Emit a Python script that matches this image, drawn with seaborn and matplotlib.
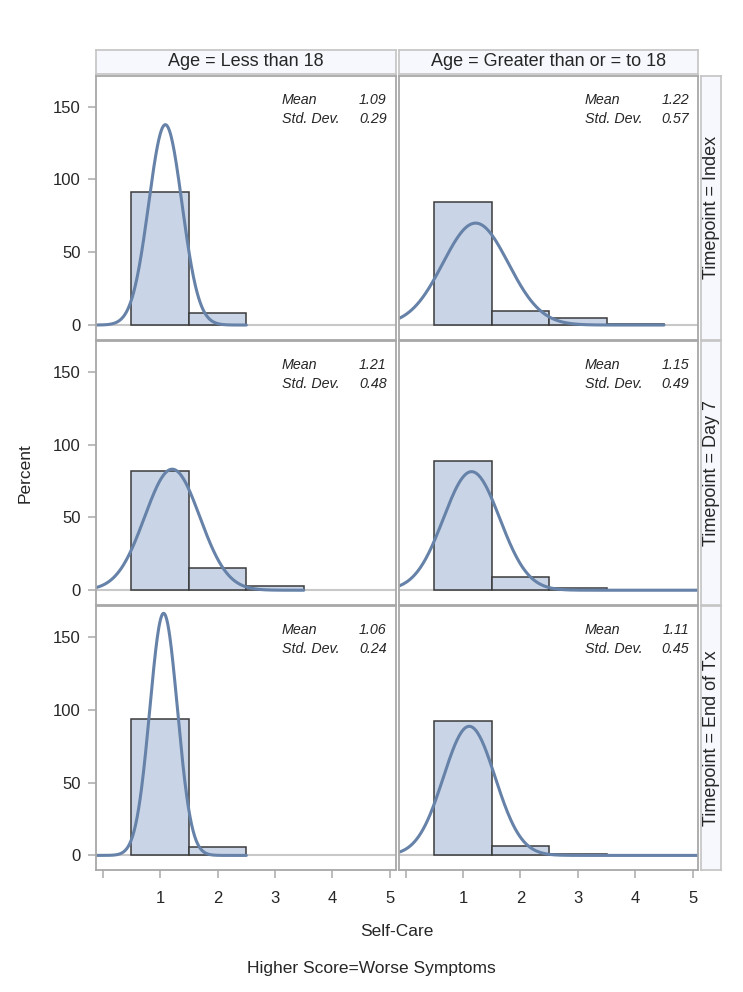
import numpy as np
import pandas as pd
import matplotlib
matplotlib.use("Agg")
import matplotlib.pyplot as plt
import seaborn as sns

sns.set_style("white")
plt.rcParams["font.family"] = ["Liberation Sans", "DejaVu Sans"]

# data
ages = ["Less than 18", "Greater than or = to 18"]
timepoints = ["Index", "Day 7", "End of Tx"]
bin_centers = [1, 2, 3, 4, 5]

pct_lt18_index = [91.5, 8.5, 0, 0, 0]
pct_ge18_index = [84.2, 9.3, 5.0, 0.8, 0]
pct_lt18_day7 = [82.2, 15.2, 2.6, 0, 0]
pct_ge18_day7 = [89.0, 9.0, 1.6, 0, 0.4]
pct_lt18_end = [93.9, 6.1, 0, 0, 0]
pct_ge18_end = [92.2, 6.7, 0.7, 0, 0.4]

means = [[1.09, 1.22], [1.21, 1.15], [1.06, 1.11]]
stds = [[0.29, 0.57], [0.48, 0.49], [0.24, 0.45]]

percents = [[pct_lt18_index, pct_ge18_index],
            [pct_lt18_day7, pct_ge18_day7],
            [pct_lt18_end, pct_ge18_end]]

bar_fill = "#c9d5e6"
curve_col = "#6682a8"
border = "#a8a8a8"
strip_fill = "#f6f8fd"

fig, axes = plt.subplots(3, 2, figsize=(7.43, 9.92), dpi=100, sharex=True, sharey=True)
fig.subplots_adjust(left=0.129, right=0.940, top=0.9234, bottom=0.123, wspace=0.01, hspace=0.006)

xmin, xmax = -0.12, 5.1

for r in range(3):
    for c in range(2):
        ax = axes[r, c]
        pct = percents[r][c]
        df = pd.DataFrame({"score": bin_centers, "pct": pct})
        ax.axhline(0, color="#c8c8c8", lw=1.5, zorder=0)
        sns.histplot(data=df, x="score", weights="pct", binwidth=1, binrange=(0.5, 5.5),
                     color=bar_fill, alpha=1, edgecolor="#3a3a3a", linewidth=1.1, ax=ax)
        for p in ax.patches:
            if p.get_height() <= 0:
                p.set_visible(False)
        # normal density scaled to percent (bin width 1)
        last = max(b for b, v in zip(bin_centers, pct) if v > 0) + 0.5
        xs = np.linspace(xmin, last, 300)
        m, s = means[r][c], stds[r][c]
        dens = 100 * np.exp(-0.5 * ((xs - m) / s) ** 2) / (s * np.sqrt(2 * np.pi))
        sns.lineplot(x=xs, y=dens, color=curve_col, lw=2.2, ax=ax)

        ax.set_xlim(xmin, xmax)
        ax.set_ylim(-10, 171)
        ax.set_xlabel("")
        ax.set_ylabel("")
        for sp in ax.spines.values():
            sp.set_visible(True)
            sp.set_color(border)
            sp.set_linewidth(1.3)

        ax.text(0.62, 0.909, "Mean", transform=ax.transAxes, style="italic",
                fontsize=10.3, ha="left", va="center")
        ax.text(0.97, 0.909, f"{m:.2f}", transform=ax.transAxes, style="italic",
                fontsize=10.3, ha="right", va="center")
        ax.text(0.62, 0.837, "Std. Dev.", transform=ax.transAxes, style="italic",
                fontsize=10.3, ha="left", va="center")
        ax.text(0.97, 0.837, f"{s:.2f}", transform=ax.transAxes, style="italic",
                fontsize=10.3, ha="right", va="center")

        ax.tick_params(axis="both", which="both", direction="out", length=6,
                       width=1.2, color="#b0b0b0", labelsize=12, pad=5,
                       left=(c == 0), bottom=(r == 2),
                       labelleft=(c == 0), labelbottom=(r == 2))
        ax.tick_params(axis="x", pad=9)

axes[0, 0].set_yticks([0, 50, 100, 150])
axes[0, 0].set_xticks([0, 1, 2, 3, 4, 5])
for ax in axes[2]:
    ax.set_xticklabels(["", "1", "2", "3", "4", "5"])

# column headers
for c in range(2):
    pos = axes[0, c].get_position()
    sax = fig.add_axes([pos.x0, pos.y1 + 2 / 992, pos.width, 24 / 992])
    sax.set_facecolor(strip_fill)
    sax.set_xticks([])
    sax.set_yticks([])
    for sp in sax.spines.values():
        sp.set_color("#c4c4c4")
        sp.set_linewidth(1.2)
    sax.text(0.5, 0.5, f"Age = {ages[c]}", ha="center", va="center", fontsize=13,
             transform=sax.transAxes)

# row headers
for r in range(3):
    pos = axes[r, 1].get_position()
    sax = fig.add_axes([pos.x1 + 3 / 743, pos.y0, 20 / 743, pos.height])
    sax.set_facecolor(strip_fill)
    sax.set_xticks([])
    sax.set_yticks([])
    for sp in sax.spines.values():
        sp.set_color("#c4c4c4")
        sp.set_linewidth(1.2)
    sax.text(0.5, 0.5, f"Timepoint = {timepoints[r]}", ha="center", va="center",
             rotation=90, fontsize=13, transform=sax.transAxes)

fig.text(25 / 743, 1 - 473 / 992, "Percent", rotation=90, ha="center", va="center", fontsize=12.5)
fig.text(397 / 743, 1 - 932 / 992, "Self-Care", ha="center", va="center", fontsize=12.5)
fig.text(371 / 743, 1 - 968 / 992, "Higher Score=Worse Symptoms", ha="center", va="center", fontsize=12.5)

fig.savefig("out.png", dpi=100)
